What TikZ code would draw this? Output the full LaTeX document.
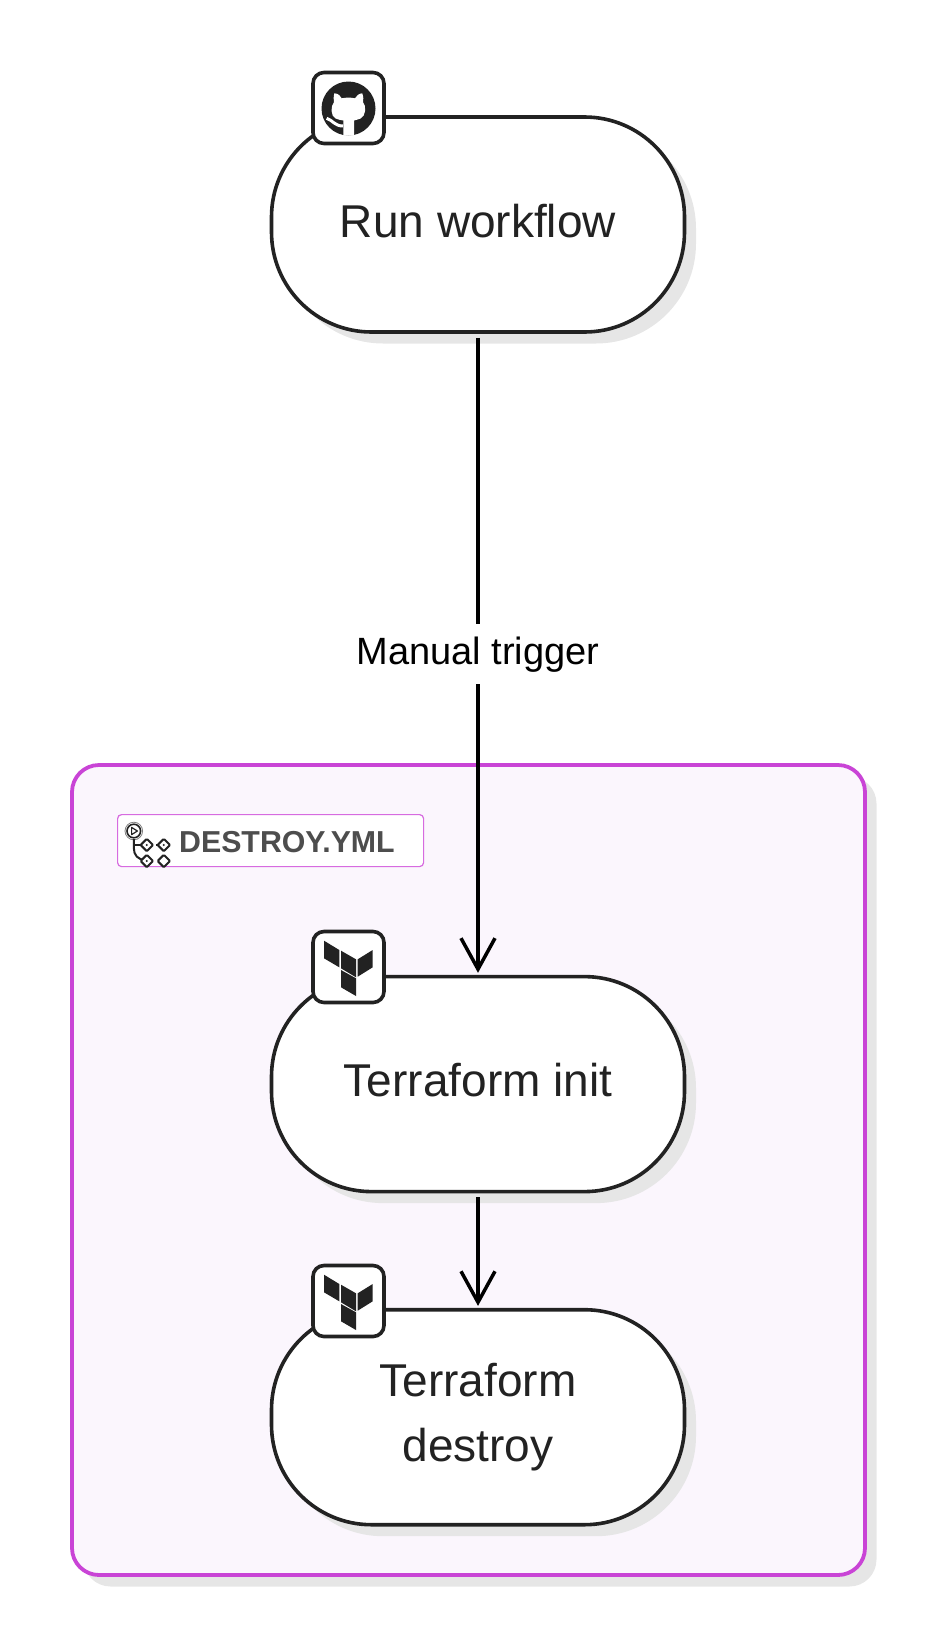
\documentclass[tikz,border=0pt]{standalone}
\usepackage{fontspec}
\setmainfont{Liberation Sans}
\usepackage{xcolor}
\usetikzlibrary{positioning,arrows.meta,shadows}

\definecolor{inkgray}{HTML}{222222}
\definecolor{shadowgray}{HTML}{E6E6E6}
\definecolor{groupline}{HTML}{C944D6}
\definecolor{groupfill}{HTML}{FBF6FD}
\definecolor{labelline}{HTML}{D76BE0}
\definecolor{labeltext}{HTML}{4D4D4D}

\tikzset{
  softshadow/.style={drop shadow={shadow xshift=11.5pt,shadow yshift=-11.5pt,fill=shadowgray,opacity=1}},
  flownode/.style={draw=inkgray,line width=3.6pt,fill=white,rounded corners=100pt,
    minimum width=413pt,minimum height=215pt,inner sep=0pt,align=center,softshadow,
    text=inkgray,font=\fontsize{46}{65}\selectfont},
  oneline/.style={text depth=8pt},
  iconbox/.style={draw=inkgray,line width=3.6pt,fill=white,rounded corners=11pt,
    minimum width=71pt,minimum height=71pt,inner sep=0pt},
  groupbox/.style={draw=groupline,line width=3.8pt,fill=groupfill,rounded corners=27pt,
    minimum width=793pt,minimum height=810pt,inner sep=0pt,softshadow},
  grouplabel/.style={draw=labelline,line width=1.2pt,fill=white,rounded corners=4pt,
    minimum width=306pt,minimum height=52pt,inner sep=0pt},
  flowedge/.style={draw=black,line width=3.5pt,
    -{Straight Barb[length=31pt,width=34pt,line width=3.5pt]},shorten <=4pt,shorten >=2pt},
  edgelabel/.style={fill=white,text=black,inner sep=0pt,minimum height=60pt,
    font=\fontsize{38}{45}\selectfont},
  tficon/.pic={
    \fill[inkgray] (-24.5,-26.3) -- (-9.2,-17) -- (-9.2,0.3) -- (-24.5,-8.7) -- cycle;
    \fill[inkgray] (-7.5,-16.3) -- (7.5,-7.7) -- (7.5,10.3) -- (-7.5,1.3) -- cycle;
    \fill[inkgray] (9.2,-7.7) -- (24.2,-17) -- (24.2,0.3) -- (9.2,9.7) -- cycle;
    \fill[inkgray] (-7.5,3) -- (7.5,11.3) -- (7.5,29) -- (-7.5,20.3) -- cycle;
  },
  ghicon/.pic={
    \fill[inkgray] (0,0.5) circle (27);
    \fill[white] (-14.2,-14.7) .. controls (-10,-14.5) and (-8,-12) .. (-6.8,-9.7)
      .. controls (-3,-10.6) and (3,-10.6) .. (6.5,-9.7)
      .. controls (8,-12) and (10,-14.5) .. (13.8,-14.7)
      .. controls (15,-11) and (15,-8) .. (14.5,-6)
      .. controls (18,-2) and (17.5,8) .. (12,10.5)
      .. controls (10,11.5) and (7,12) .. (5.5,12.5)
      -- (5.5,27.5) -- (-5.2,27.5) -- (-5.2,12.5)
      .. controls (-8,12) and (-11,11.5) .. (-13,10.5)
      .. controls (-18,8) and (-18,-2) .. (-14.5,-6)
      .. controls (-15,-8) and (-15,-11) .. (-14.2,-14.7) -- cycle;
    \draw[white,line width=3pt] (-21.8,10.3) .. controls (-16,12) and (-14,18) .. (-5.5,18);
  },
  wfdiamond/.style={draw=inkgray,line width=2pt,fill=white,rounded corners=1pt},
  wficon/.pic={
    \draw[gray,line width=0.8pt] (0,0) circle (8.8);
    \draw[inkgray,line width=1.6pt] (0,0) circle (6.8);
    \draw[inkgray,line width=1.2pt,line join=round] (-2.2,-3.6) -- (3.6,0) -- (-2.2,3.6) -- cycle;
    \draw[inkgray,line width=2pt] (0,8) -- (0,17) .. controls (0,24) and (4,29) .. (12,29);
    \draw[inkgray,line width=2pt] (0,14) -- (12,14);
    \draw[inkgray,line width=2pt] (22,14) -- (28,14);
    \foreach \dx/\dy in {13/14,30/14,13/30,30/30}{
      \draw[wfdiamond] (\dx-6.2,\dy) -- (\dx,\dy-6.2) -- (\dx+6.2,\dy) -- (\dx,\dy+6.2) -- cycle;
    }
    \foreach \dx/\dy in {13/14,30/14,13/30}{
      \fill[inkgray] (\dx,\dy) circle (1.1);
    }
  }
}

\begin{document}
\begin{tikzpicture}[x=1pt,y=-1pt]
  \useasboundingbox (0,0) rectangle (942,1652);

  \node[flownode,oneline] (run) at (478,224.5) {Run workflow};
  \node[iconbox] (runicon) at (348.5,108) {};
  \pic at (runicon.center) {ghicon};

  \node[groupbox] (destroygroup) at (468.5,1170) {};
  \node[grouplabel,anchor=north west] (destroylabel) at (117,814) {};
  \node[anchor=west,inner sep=0pt,text=labeltext,font=\fontsize{30.3}{36}\bfseries\selectfont]
    (destroytext) at (179,842) {DESTROY.YML};
  \pic at (133.8,831) {wficon};

  \node[flownode,oneline,below=641pt of run] (init) {Terraform init};
  \node[iconbox] (initicon) at (348.5,967) {};
  \pic at (initicon.center) {tficon};

  \node[flownode,below=114.5pt of init] (destroy) {Terraform\\destroy};
  \node[iconbox] (destroyicon) at (348.5,1301) {};
  \pic at (destroyicon.center) {tficon};

  \draw[flowedge] (run) -- node[edgelabel] (triggerlabel) {Manual trigger} (init);
  \draw[flowedge] (init) -- (destroy);
\end{tikzpicture}
\end{document}
